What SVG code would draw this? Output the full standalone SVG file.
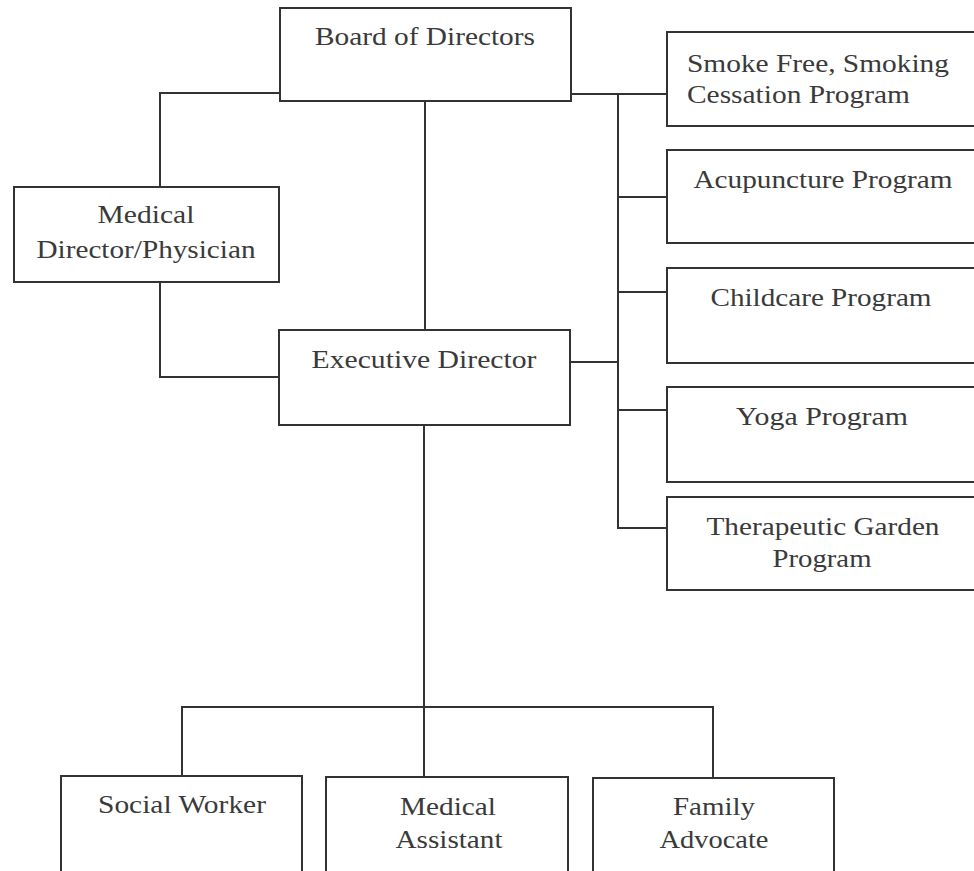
<svg xmlns="http://www.w3.org/2000/svg" width="974" height="871" viewBox="0 0 974 871">
<style>
.box{fill:#fff;stroke:#333;stroke-width:2}
.ln{fill:none;stroke:#333;stroke-width:2}
text{font-family:"Liberation Serif","Times New Roman",serif;font-size:25px;fill:#3a3a3a;text-anchor:middle}
.l{text-anchor:start}
</style>
<rect width="974" height="871" fill="#fff"/>
<g id="connectors">
<path class="ln" d="M280 93 H160 V187"/>
<path class="ln" d="M160 282 V377 H279"/>
<path class="ln" d="M425 101 V330"/>
<path class="ln" d="M571 94 H667"/>
<path class="ln" d="M618 94 V528 H667"/>
<path class="ln" d="M618 197 H667"/>
<path class="ln" d="M618 292 H667"/>
<path class="ln" d="M618 410 H667"/>
<path class="ln" d="M571 362 H618"/>
<path class="ln" d="M424 425 V777"/>
<path class="ln" d="M182 776 V707 H713 V778"/>
</g>
<g id="board">
<rect class="box" x="280" y="8" width="291" height="93"/>
<text x="425" y="45" textLength="220" lengthAdjust="spacingAndGlyphs">Board of Directors</text>
</g>
<g id="smoke">
<rect class="box" x="667" y="32" width="320" height="94"/>
<text class="l" x="687" y="72" textLength="262" lengthAdjust="spacingAndGlyphs">Smoke Free, Smoking</text>
<text class="l" x="687" y="103" textLength="223" lengthAdjust="spacingAndGlyphs">Cessation Program</text>
</g>
<g id="acupuncture">
<rect class="box" x="667" y="150" width="320" height="93"/>
<text x="823" y="188" textLength="259" lengthAdjust="spacingAndGlyphs">Acupuncture Program</text>
</g>
<g id="childcare">
<rect class="box" x="667" y="268" width="320" height="95"/>
<text x="821" y="306" textLength="221" lengthAdjust="spacingAndGlyphs">Childcare Program</text>
</g>
<g id="yoga">
<rect class="box" x="667" y="387" width="320" height="95"/>
<text x="822" y="425" textLength="172" lengthAdjust="spacingAndGlyphs">Yoga Program</text>
</g>
<g id="garden">
<rect class="box" x="667" y="497" width="320" height="93"/>
<text x="823" y="535" textLength="233" lengthAdjust="spacingAndGlyphs">Therapeutic Garden</text>
<text x="822" y="567" textLength="99" lengthAdjust="spacingAndGlyphs">Program</text>
</g>
<g id="medical-director">
<rect class="box" x="14" y="187" width="265" height="95"/>
<text x="146" y="223" textLength="97" lengthAdjust="spacingAndGlyphs">Medical</text>
<text x="146" y="258" textLength="219" lengthAdjust="spacingAndGlyphs">Director/Physician</text>
</g>
<g id="executive">
<rect class="box" x="279" y="330" width="291" height="95"/>
<text x="424" y="368" textLength="225" lengthAdjust="spacingAndGlyphs">Executive Director</text>
</g>
<g id="social">
<rect class="box" x="61" y="776" width="241" height="110"/>
<text x="182" y="813" textLength="168" lengthAdjust="spacingAndGlyphs">Social Worker</text>
</g>
<g id="medical-assistant">
<rect class="box" x="326" y="777" width="242" height="110"/>
<text x="448" y="815" textLength="96" lengthAdjust="spacingAndGlyphs">Medical</text>
<text x="449" y="848" textLength="107" lengthAdjust="spacingAndGlyphs">Assistant</text>
</g>
<g id="family">
<rect class="box" x="593" y="778" width="241" height="110"/>
<text x="714" y="815" textLength="82" lengthAdjust="spacingAndGlyphs">Family</text>
<text x="714" y="848" textLength="109" lengthAdjust="spacingAndGlyphs">Advocate</text>
</g>
</svg>
